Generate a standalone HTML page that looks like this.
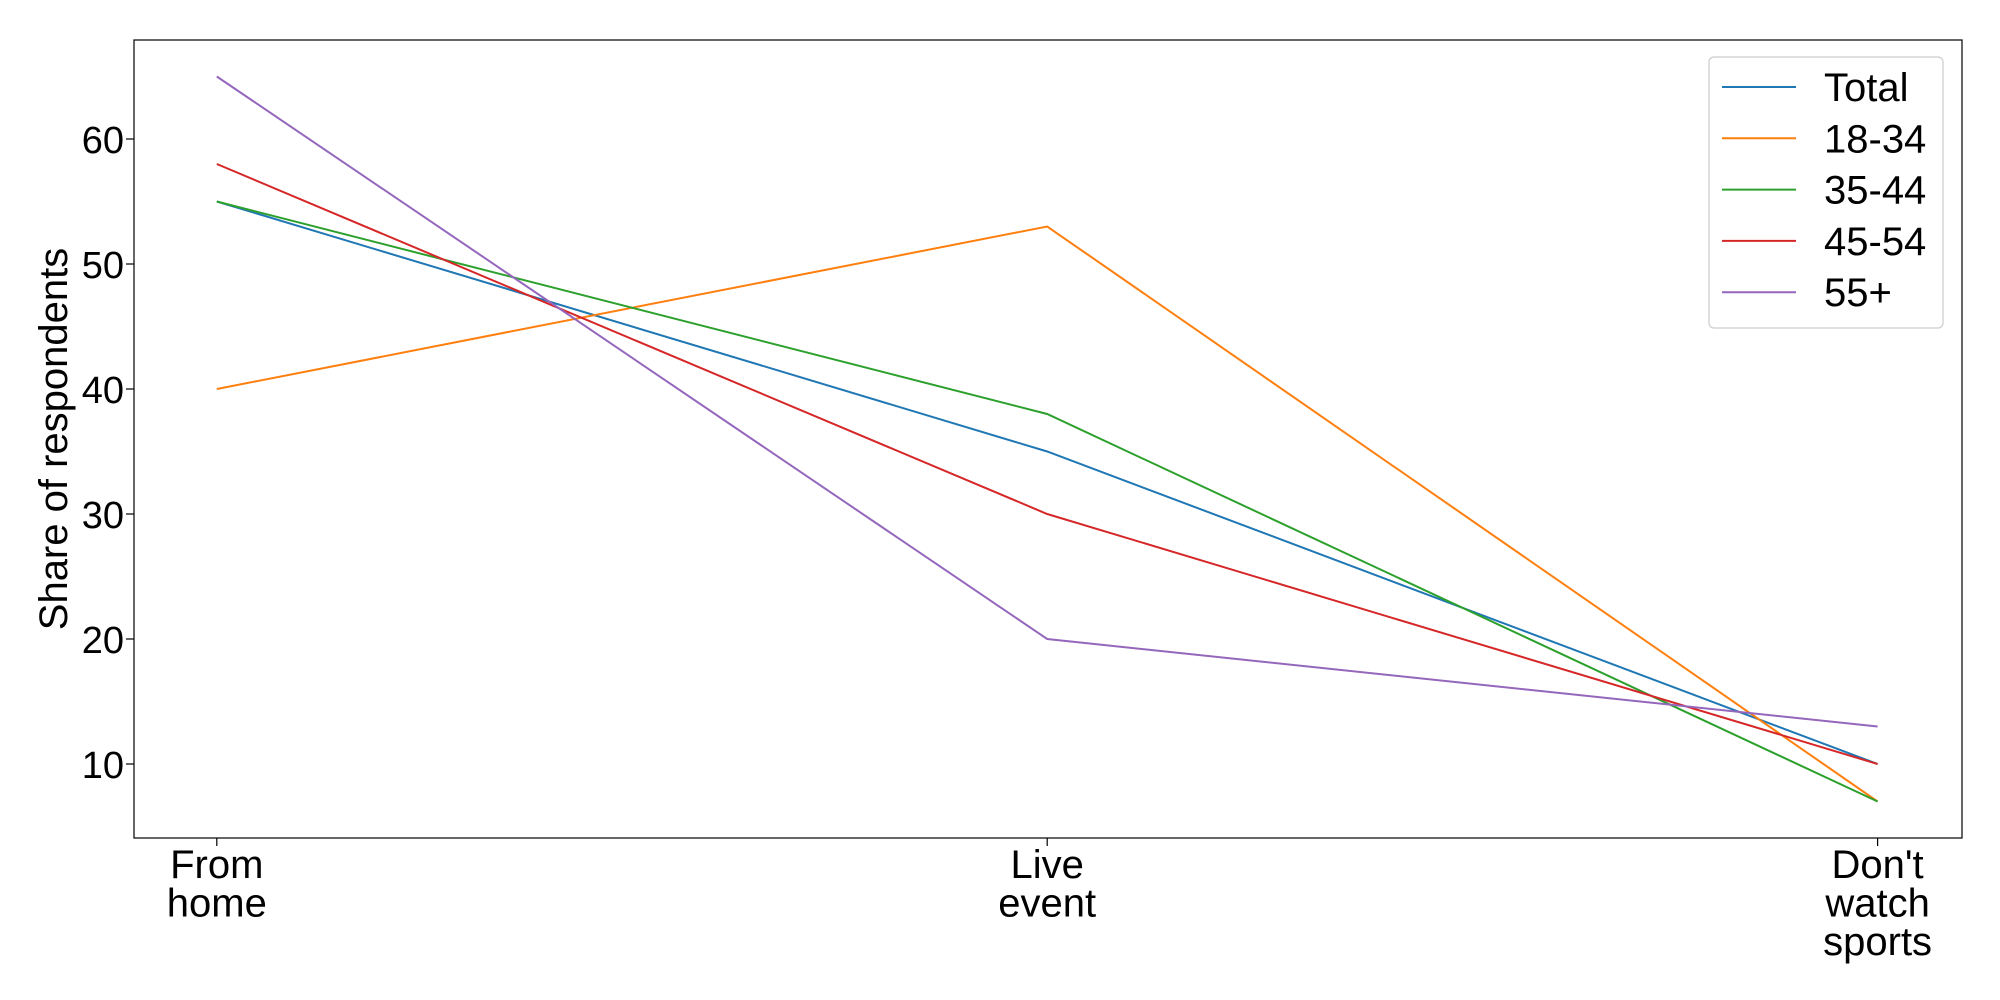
<!DOCTYPE html>
<html><head><meta charset="utf-8"><style>
body{margin:0;background:#fff;}
svg{display:block;font-family:"Liberation Sans","DejaVu Sans",sans-serif;}
</style></head><body>
<svg id="chart" width="2000" height="1000"></svg>
<script>
const categories=[["From","home"],["Live","event"],["Don't","watch","sports"]];
const seriesNames=["Total","18-34","35-44","45-54","55+"];
const totalVals=[55,35,10];
const age1834Vals=[40,53,7];
const age3544Vals=[55,38,7];
const age4554Vals=[58,30,10];
const age55Vals=[65,20,13];
const yTicks=[10,20,30,40,50,60];
const seriesVals=[totalVals,age1834Vals,age3544Vals,age4554Vals,age55Vals];
const colors=["#1f77b4","#ff7f0e","#2ca02c","#d62728","#9467bd"];
const NS="http://www.w3.org/2000/svg";
const svg=document.getElementById('chart');
const L=134,R=1962,T=40,B=838;
const FS=40;
function y(v){return 764-(v-10)*12.5;}
function x(i){return 216.8+i*(1877.6-216.8)/(categories.length-1);}
function mk(tag,attrs,parent){const e=document.createElementNS(NS,tag);for(const k in attrs)e.setAttribute(k,attrs[k]);(parent||svg).appendChild(e);return e;}
const frame=mk('rect',{x:L,y:T,width:R-L,height:B-T,fill:'none',stroke:'#000','stroke-width':1.2});


yTicks.forEach(v=>{
  const t=mk('line',{x1:L-8,x2:L,y1:y(v),y2:y(v),stroke:'#000','stroke-width':1.2});
  
  
  const tx=mk('text',{x:L-10,y:y(v)+14,'text-anchor':'end','font-size':38});
  tx.textContent=v;
  
  
});
categories.forEach((c,i)=>{
  const t=mk('line',{x1:x(i),x2:x(i),y1:B,y2:B+8,stroke:'#000','stroke-width':1.2});
  
  
  const tx=mk('text',{x:x(i),'text-anchor':'middle','font-size':FS});
  
  
  c.forEach((ln,j)=>{const s=mk('tspan',{x:x(i),y:878+j*38.5},tx);s.textContent=ln;});
});
const yl=mk('text',{x:0,y:0,transform:'translate(67,439) rotate(-90)','text-anchor':'middle','font-size':FS});
yl.textContent='Share of respondents';


seriesVals.forEach((vals,s)=>{
  const p=mk('polyline',{points:vals.map((v,i)=>x(i)+','+y(v)).join(' '),fill:'none',stroke:colors[s],'stroke-width':2});
  
  
});
const lg=mk('g',{});


mk('rect',{x:1709,y:57,width:234,height:271,rx:5,fill:'#fff',stroke:'#ccc','stroke-width':1.2},lg);
seriesNames.forEach((n,s)=>{
  const yy=87+s*51.3;
  const g=mk('g',{},lg);
  
  
  mk('line',{x1:1722,x2:1796,y1:yy,y2:yy,stroke:colors[s],'stroke-width':2},g);
  const t=mk('text',{x:1824,y:yy+14,'font-size':FS},g);
  t.textContent=n;
});
</script>
</body></html>
